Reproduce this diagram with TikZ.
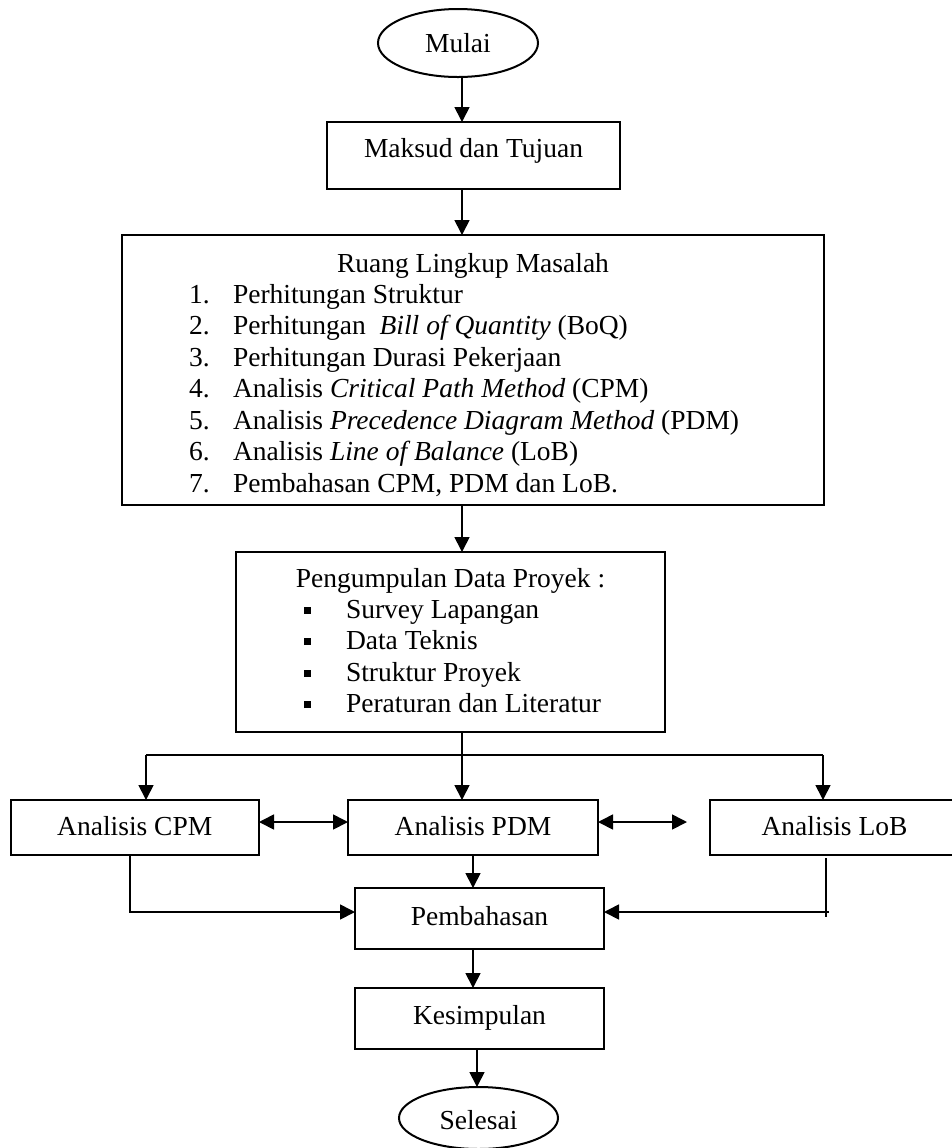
\documentclass[tikz,border=0pt]{standalone}
\usepackage{fontspec}
\setmainfont{Liberation Serif}
\usetikzlibrary{arrows.meta,shapes.geometric}
\tikzset{
  every node/.style={font=\fontsize{13.75}{15.5}\selectfont, inner sep=0pt, outer sep=0pt},
  boxnode/.style={draw, line width=1pt, rectangle, align=center, text depth=0pt},
  ovalnode/.style={draw, line width=1pt, ellipse, align=center, text depth=0pt},
  arr/.style={line width=0.85pt, -{Triangle[length=7.5pt,width=7.5pt]}},
  darr/.style={line width=0.85pt, {Triangle[length=7.5pt,width=7.5pt]}-{Triangle[length=7.5pt,width=7.5pt]}},
  ln/.style={line width=0.85pt},
  txt/.style={anchor=base west},
  ctxt/.style={anchor=base}
}
\begin{document}
\begin{tikzpicture}[x=0.5pt,y=-0.5pt]
\useasboundingbox (0,0) rectangle (952,1148);
\clip (0,0) rectangle (952,1148);

% nodes
\node[ovalnode, minimum width=80pt, minimum height=34pt, text height=9pt] (mulai) at (458,43) {Mulai};
\node[boxnode, minimum width=146.5pt, minimum height=33.5pt, text height=1.5pt] (maksud) at (473.5,155.5) {Maksud dan Tujuan};
\node[boxnode, minimum width=351pt, minimum height=135pt] (ruang) at (473,370) {};
\node[boxnode, minimum width=214.5pt, minimum height=90pt] (kumpul) at (450.5,642) {};
\node[boxnode, minimum width=124.25pt, minimum height=27.5pt, text height=8pt] (cpm) at (134.75,827.5) {Analisis CPM};
\node[boxnode, minimum width=125pt, minimum height=27.5pt, text height=8pt] (pdm) at (473,827.5) {Analisis PDM};
\node[boxnode, minimum width=124.5pt, minimum height=27.5pt, text height=8pt] (lob) at (834.5,827.5) {Analisis LoB};
\node[boxnode, minimum width=124.5pt, minimum height=30.5pt, text height=6.5pt] (bahas) at (479.5,918.5) {Pembahasan};
\node[boxnode, minimum width=124.5pt, minimum height=30.5pt, text height=5.5pt] (simpul) at (479.5,1018.5) {Kesimpulan};
\node[ovalnode, minimum width=79.5pt, minimum height=31pt, text height=11pt] (selesai) at (478.5,1118) {Selesai};

% texts inside Ruang Lingkup Masalah
\node[ctxt] (rt) at (473,272) {Ruang Lingkup Masalah};
\node[txt] (r1n) at (189,303) {1.};
\node[txt] (r1) at (233,303) {Perhitungan Struktur};
\node[txt] (r2n) at (189,334.5) {2.};
\node[txt] (r2) at (233,334.5) {Perhitungan\ \ \textit{Bill of Quantity} (BoQ)};
\node[txt] (r3n) at (189,366) {3.};
\node[txt] (r3) at (233,366) {Perhitungan Durasi Pekerjaan};
\node[txt] (r4n) at (189,397.5) {4.};
\node[txt] (r4) at (233,397.5) {Analisis \textit{Critical Path Method} (CPM)};
\node[txt] (r5n) at (189,429) {5.};
\node[txt] (r5) at (233,429) {Analisis \textit{Precedence Diagram Method} (PDM)};
\node[txt] (r6n) at (189,460.5) {6.};
\node[txt] (r6) at (233,460.5) {Analisis \textit{Line of Balance} (LoB)};
\node[txt] (r7n) at (189,492) {7.};
\node[txt] (r7) at (233,492) {Pembahasan CPM, PDM dan LoB.};

% texts inside Pengumpulan Data Proyek
\node[ctxt] (kt) at (450.5,587) {Pengumpulan Data Proyek :};
\node[ctxt] (k1b) at (307,618) {\rule[2.25pt]{3.5pt}{3.5pt}};
\node[txt] (k1) at (346,618) {Survey Lapangan};
\node[ctxt] (k2b) at (307,649.5) {\rule[2.25pt]{3.5pt}{3.5pt}};
\node[txt] (k2) at (346,649.5) {Data Teknis};
\node[ctxt] (k3b) at (307,681) {\rule[2.25pt]{3.5pt}{3.5pt}};
\node[txt] (k3) at (346,681) {Struktur Proyek};
\node[ctxt] (k4b) at (307,712.5) {\rule[2.25pt]{3.5pt}{3.5pt}};
\node[txt] (k4) at (346,712.5) {Peraturan dan Literatur};

% coordinates
\coordinate (axis) at (462,0);
\coordinate (j) at (462,755);
\coordinate (jl) at (146,755);
\coordinate (jr) at (823,755);
\coordinate (d1) at (0,822);
\coordinate (d2) at (687,822);
\coordinate (c1) at (130,912);
\coordinate (l0) at (826,858);
\coordinate (l1) at (826,917);
\coordinate (l2) at (829,912);

% connectors
\draw[arr] (mulai.south -| axis) -- (maksud.north -| axis);
\draw[arr] (maksud.south -| axis) -- (ruang.north -| axis);
\draw[arr] (ruang.south -| axis) -- (kumpul.north -| axis);
\draw[ln] (kumpul.south -| axis) -- (j);
\draw[ln] (jl) -- (jr);
\draw[arr] (j) -- (pdm.north -| j);
\draw[arr] (jl) -- (cpm.north -| jl);
\draw[arr] (jr) -- (lob.north -| jr);
\draw[darr] (cpm.east |- d1) -- (pdm.west |- d1);
\draw[darr] (pdm.east |- d1) -- (d2);
\draw[arr] (cpm.south -| c1) -- (c1) -- (bahas.west |- c1);
\draw[arr] (pdm.south) -- (pdm.south |- bahas.north);
\draw[ln] (l0) -- (l1);
\draw[arr] (l2) -- (bahas.east |- l2);
\draw[arr] ([xshift=-3.25pt]bahas.south) -- ([xshift=-3.25pt]simpul.north);
\draw[arr] ([xshift=-1.25pt]simpul.south) -- ([xshift=-1.25pt]simpul.south |- selesai.north);
\end{tikzpicture}
\end{document}
